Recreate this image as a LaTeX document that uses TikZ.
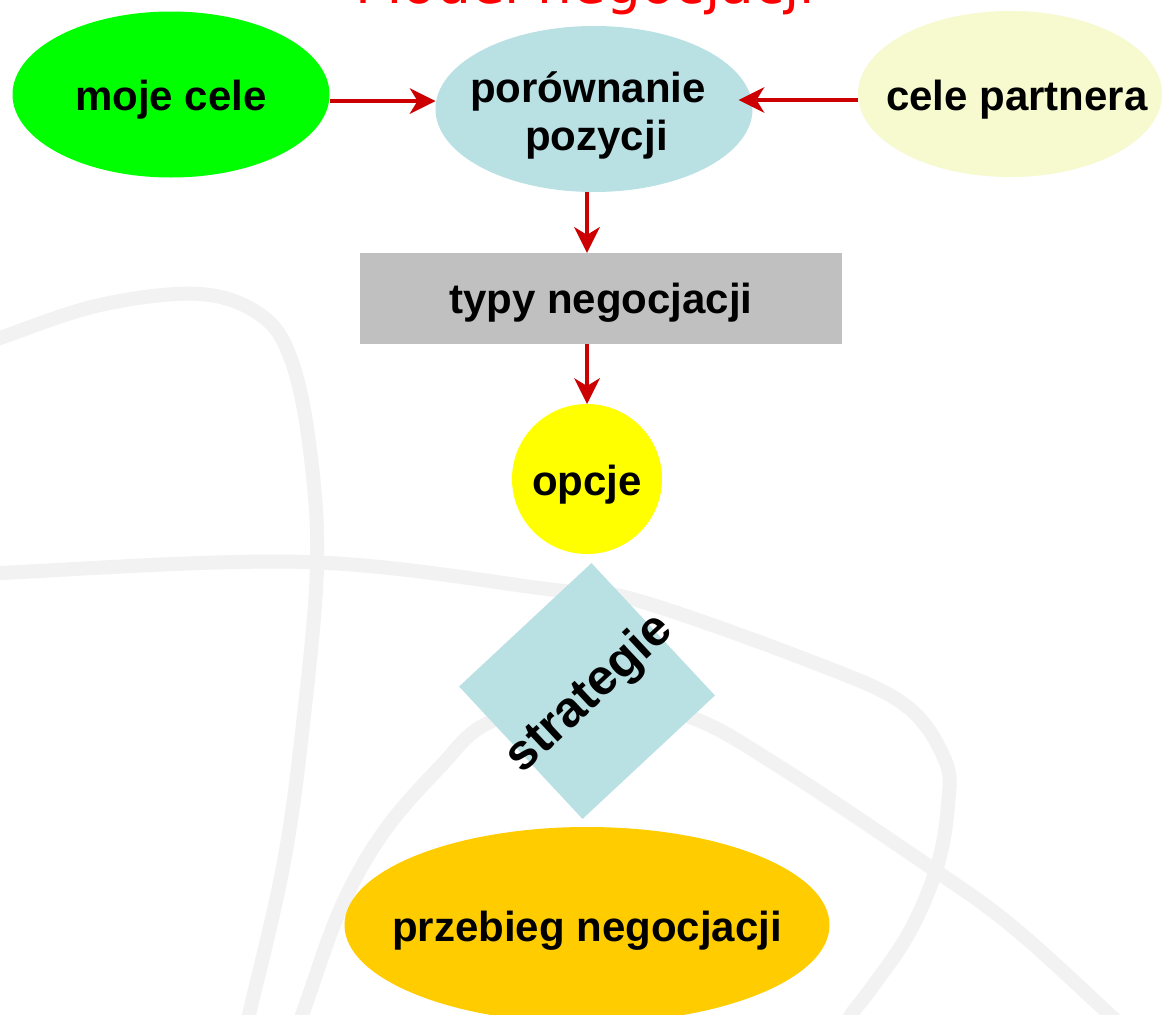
\documentclass[tikz,border=0pt]{standalone}
\usepackage{fontspec}
\setmainfont{Liberation Sans}
\newfontfamily\titlefont{DejaVu Sans}
\usetikzlibrary{shapes.geometric,arrows.meta}
\definecolor{bgline}{HTML}{F2F2F2}
\definecolor{arrred}{HTML}{CC0000}
\definecolor{titlered}{HTML}{FF0000}
\definecolor{mygreen}{HTML}{00FF00}
\definecolor{lblue}{HTML}{B9E0E3}
\definecolor{paleyel}{HTML}{F7F9CF}
\definecolor{grayrect}{HTML}{C0C0C0}
\definecolor{yel}{HTML}{FFFF00}
\definecolor{gold}{HTML}{FFCC00}
\newcommand{\ctext}[3][0pt]{\makebox[0pt]{\hspace*{#1}\raisebox{#2}[0pt][0pt]{#3}}}
\begin{document}
\begin{tikzpicture}[x=1pt,y=-1pt,
  txt/.style={inner sep=0pt, outer sep=0pt, text=black, font=\bfseries\fontsize{42}{48}\selectfont},
  bub/.style={txt, ellipse},
  arr/.style={draw=arrred, line width=4.5pt, -{Stealth[length=26pt,width=26pt,inset=8pt,line width=0pt]}},
  bgc/.style={draw=bgline, line width=14pt, line cap=round}]
\useasboundingbox (0,0) rectangle (1163,1015);
\fill[white] (0,0) rectangle (1163,1015);
\clip (0,0) rectangle (1163,1015);
% background decoration
\draw[bgc] plot[smooth, tension=0.6] coordinates {(-20,346) (0,338) (100,305) (200,294) (262,316) (292,362) (310,450) (317,567) (302,733) (283,867) (249,1015) (244,1040)};
\draw[bgc] plot[smooth, tension=0.6] coordinates {(-20,575) (0,573) (306,562) (555,590) (636,600) (815,663) (905,705) (945,760) (948,805) (937,867) (909,933) (870,990) (851,1015) (840,1040)};
\draw[bgc] plot[smooth, tension=0.6] coordinates {(290,1040) (302,1015) (340,910) (383,833) (440,767) (490,722) (590,697) (690,717) (780,767) (930,867) (1013,927) (1110,1015) (1135,1040)};
% title
\node[inner sep=0pt, anchor=base, text=titlered, font=\titlefont\fontsize{55}{60}\selectfont] (title) at (585,3) {Model negocjacji};
% nodes
\node[bub, fill=mygreen, minimum width=317pt, minimum height=166pt] (moje) at (171,94.5) {\ctext{-15.5pt}{moje cele}};
\node[bub, fill=lblue, minimum width=317pt, minimum height=166pt] (por) at (594,109)
  {\ctext{7pt}{\begin{tabular}[t]{@{}c@{}}porównanie\hspace*{12pt}\\\hspace*{5pt}pozycji\end{tabular}}};
\node[bub, fill=paleyel, minimum width=304pt, minimum height=166pt] (cp) at (1010,94) {\ctext[14pt]{-16pt}{cele partnera}};
\node[txt, rectangle, fill=grayrect, minimum width=481.5pt, minimum height=91pt] (typy) at (600.75,298.35) {\ctext{-15pt}{typy negocjacji}};
\node[bub, fill=yel, minimum width=150pt, minimum height=150pt] (opc) at (587,479) {\ctext{-16pt}{opcje}};
\node[txt, rectangle, fill=lblue, rotate=43, minimum size=181pt, font=\bfseries\fontsize{50}{55}\selectfont] (str) at (587,691) {\ctext{-17.5pt}{strategie}};
\node[bub, fill=gold, minimum width=485pt, minimum height=196pt] (prz) at (587,925) {\ctext{-16.7pt}{przebieg negocjacji}};
% connectors
\coordinate (ya) at (0,101);
\coordinate (yb) at (0,100);
\coordinate (pe) at ([xshift=-14pt]por.east);
\draw[arr] (moje.east |- ya) -- (por.west |- ya);
\draw[arr] (cp.west |- yb) -- (pe |- yb);
\draw[arr] (por.south -| opc) -- (typy.north -| opc);
\draw[arr] (typy.south -| opc) -- (opc.north);
\end{tikzpicture}
\end{document}
